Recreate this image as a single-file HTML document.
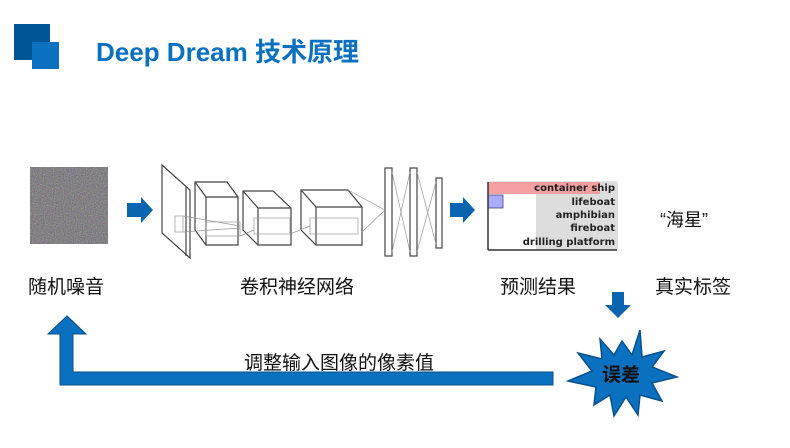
<!DOCTYPE html>
<html><head><meta charset="utf-8"><style>
body{margin:0;width:790px;height:448px;background:#fff;position:relative;overflow:hidden;font-family:"Liberation Sans","Noto Sans CJK SC",sans-serif}
.t{position:absolute;white-space:nowrap;color:#111}
</style></head><body>
<div style="position:absolute;left:14px;top:24px;width:36px;height:36px;background:#005596"></div>
<div style="position:absolute;left:32px;top:42px;width:27px;height:27px;background:#0a70c0"></div>
<div class="t" style="left:96px;top:32px;font-size:26px;font-weight:bold;color:#0a70c0">Deep Dream 技术原理</div>

<svg width="790" height="448" style="position:absolute;left:0;top:0">
<defs><filter id="n" x="0" y="0" width="1" height="1" filterUnits="objectBoundingBox" color-interpolation-filters="sRGB"><feTurbulence type="fractalNoise" baseFrequency="0.9" numOctaves="2" seed="3"/><feColorMatrix type="matrix" values="0.5 0 0 0 0.27  0 0.5 0 0 0.26  0 0 0.5 0 0.28  0 0 0 0 1"/></filter></defs>
<rect x="30" y="167" width="78" height="77" fill="#808080"/>
<rect x="30" y="167" width="78" height="77" fill="#777" filter="url(#n)" opacity="0.8"/>
<!-- arrows -->
<polygon points="127,203 141,203 141,197 153,210 141,223 141,217 127,217" fill="#0a64b0"/>
<polygon points="450,203 463,203 463,197 475,210 463,223 463,217 450,217" fill="#0a64b0"/>
<!-- CNN -->
<g fill="none" stroke="#444" stroke-width="1.2">
<polygon points="162,165 190,190 190,258 162,233"/><line x1="186" y1="187" x2="186" y2="256"/>
<polygon points="195,182 227,182 238,197 238,245 206,245 195,230"/><polyline points="195,182 206,197 238,197"/><line x1="206" y1="197" x2="206" y2="245"/>
<polygon points="243,191 273,191 291,208 291,245 258,245 243,230"/><polyline points="243,191 258,208 291,208"/><line x1="258" y1="208" x2="258" y2="245"/>
<polygon points="301,190 348,190 362,207 362,245 316,245 301,230"/><polyline points="301,190 316,207 362,207"/><line x1="316" y1="207" x2="316" y2="245"/>
<rect x="385" y="168" width="7" height="88"/><rect x="410" y="168" width="7" height="88"/><rect x="436" y="178" width="6" height="70"/>
</g>
<g fill="none" stroke="#999" stroke-width="0.7">
<rect x="175" y="216" width="8" height="16"/><rect x="206" y="222" width="34" height="14"/><rect x="254" y="218" width="36" height="16"/><rect x="310" y="218" width="48" height="16"/>
<line x1="183" y1="216" x2="240" y2="226"/><line x1="183" y1="232" x2="240" y2="228"/>
<line x1="240" y1="236" x2="254" y2="230"/><line x1="290" y1="234" x2="310" y2="226"/>
<line x1="348" y1="190" x2="385" y2="210"/><line x1="362" y1="232" x2="385" y2="210"/>
<line x1="392" y1="172" x2="410" y2="252"/><line x1="392" y1="252" x2="410" y2="172"/>
<line x1="417" y1="172" x2="436" y2="244"/><line x1="417" y1="252" x2="436" y2="182"/>
</g>
<!-- table -->
<rect x="488" y="182" width="129" height="68" fill="#fff" stroke="#ccc"/>
<rect x="536" y="182" width="81" height="68" fill="#ddd"/>
<rect x="488" y="182" width="112" height="12" fill="#f4a0a0"/>
<rect x="488" y="195" width="15" height="13" fill="#aaaaff" stroke="#446" stroke-width="0.8"/>
<line x1="488" y1="182" x2="488" y2="250" stroke="#333" stroke-width="1.5"/><line x1="488" y1="250" x2="617" y2="250" stroke="#333" stroke-width="1.5"/>
<g font-family="DejaVu Sans" font-weight="bold" font-size="10" fill="#222" text-anchor="end">
<text x="615" y="191">container ship</text><text x="615" y="205">lifeboat</text><text x="615" y="218">amphibian</text><text x="615" y="231">fireboat</text><text x="615" y="245">drilling platform</text></g>
<!-- down arrow -->
<polygon points="612,292 624,292 624,305 631,305 618,318 605,305 612,305" fill="#0a64b0"/>
<!-- L arrow -->
<polygon points="60,334 48,334 67,316 86,334 73,334 73,372 553,372 553,385 60,385" fill="#0a70c0" stroke="#08508a" stroke-width="1"/>
<!-- star -->
<g transform="translate(622,373)"><polygon fill="#0a70c0" stroke="#08508a" stroke-width="1.5" points="0,-32 10,-18 18,-43 20,-16 42,-22 30,-6 55,4 30,10 40,28 18,22 16,42 4,24 -8,43 -12,22 -28,32 -26,14 -54,8 -30,-2 -44,-20 -20,-14 -22,-34 -8,-18"/></g>
</svg>
<div class="t" style="left:602px;top:360px;font-size:19px;font-weight:bold">误差</div>
<div class="t" style="left:660px;top:206px;font-size:18px">“海星”</div>
<div class="t" style="left:28px;top:272px;font-size:19px">随机噪音</div>
<div class="t" style="left:240px;top:272px;font-size:19px">卷积神经网络</div>
<div class="t" style="left:500px;top:272px;font-size:19px">预测结果</div>
<div class="t" style="left:655px;top:272px;font-size:19px">真实标签</div>
<div class="t" style="left:244px;top:348px;font-size:19px">调整输入图像的像素值</div>
</body></html>
